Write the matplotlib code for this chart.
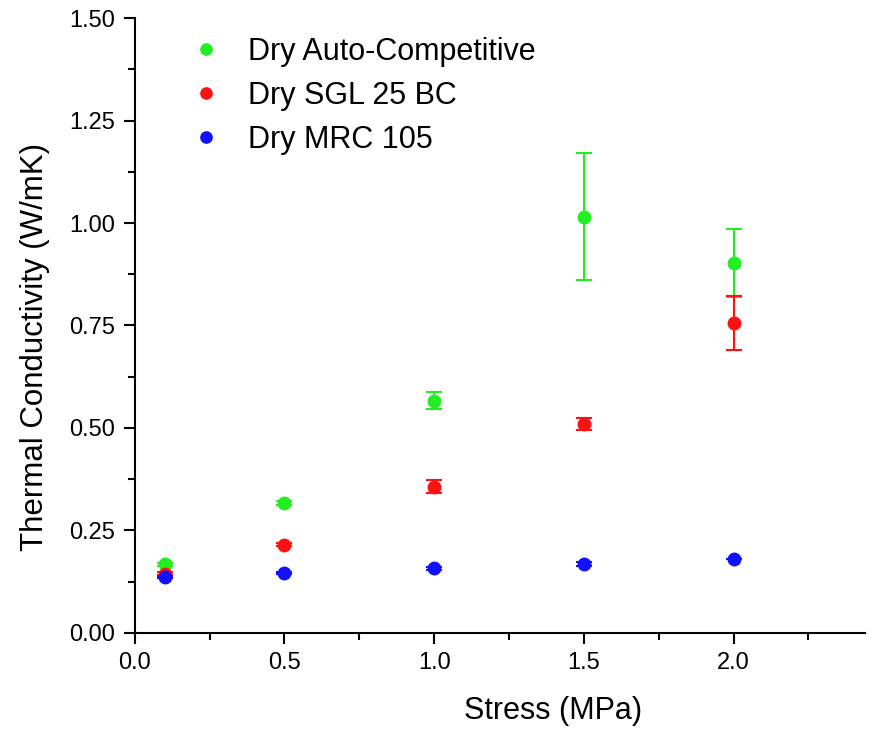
import matplotlib
matplotlib.use("Agg")
import matplotlib.pyplot as plt
from matplotlib.ticker import MultipleLocator

plt.rcParams['font.family'] = ['Liberation Sans', 'DejaVu Sans']

# Data
stress = [0.1, 0.5, 1.0, 1.5, 2.0]

auto_k = [0.167, 0.316, 0.566, 1.016, 0.902]
auto_err = [0.004, 0.005, 0.021, 0.155, 0.083]

sgl_k = [0.144, 0.215, 0.357, 0.510, 0.756]
sgl_err = [0.004, 0.004, 0.016, 0.015, 0.065]

mrc_k = [0.136, 0.146, 0.157, 0.168, 0.180]
mrc_err = [0.003, 0.002, 0.003, 0.004, 0.001]

labels = ["Dry Auto-Competitive", "Dry SGL 25 BC", "Dry MRC 105"]
colors = ["#22ee22", "#ff1111", "#1111ff"]

fig = plt.figure(figsize=(8.75, 7.29), dpi=100)
ax = fig.add_axes([0.154, 0.132, 0.835, 0.843])

series = [(auto_k, auto_err), (sgl_k, sgl_err), (mrc_k, mrc_err)]
for (k, err), lab, c in zip(series, labels, colors):
    ax.errorbar(stress, k, yerr=err, fmt='o', color=c, ecolor=c,
                markersize=9, capsize=5.5, elinewidth=1.5, capthick=1.5,
                label=lab)

ax.set_xlim(0, 2.44)
ax.set_ylim(0, 1.5)
ax.xaxis.set_major_locator(MultipleLocator(0.5))
ax.xaxis.set_minor_locator(MultipleLocator(0.25))
ax.yaxis.set_major_locator(MultipleLocator(0.25))
ax.yaxis.set_minor_locator(MultipleLocator(0.125))
ax.xaxis.set_major_formatter(matplotlib.ticker.FormatStrFormatter('%.1f'))
ax.yaxis.set_major_formatter(matplotlib.ticker.FormatStrFormatter('%.2f'))

for s in ['top', 'right']:
    ax.spines[s].set_visible(False)
for s in ['left', 'bottom']:
    ax.spines[s].set_linewidth(1.5)

ax.tick_params(which='major', direction='out', length=8, width=1.5, labelsize=17, pad=6)
ax.tick_params(which='minor', direction='out', length=5, width=1.5)

ax.set_xlabel('Stress (MPa)', fontsize=22, va='center')
ax.set_ylabel('Thermal Conductivity (W/mK)', fontsize=22.5, va='center')
ax.xaxis.set_label_coords(0.573, -0.128)
ax.yaxis.set_label_coords(-0.136, 0.465)

handles, labs = ax.get_legend_handles_labels()
handles = [h[0] for h in handles]
ax.legend(handles, labs, loc='upper left', bbox_to_anchor=(0.029, 1.015),
          frameon=False, fontsize=22, handletextpad=0.6, labelspacing=0.46,
          markerscale=0.9, handlelength=1.5)

fig.savefig('out.png')
